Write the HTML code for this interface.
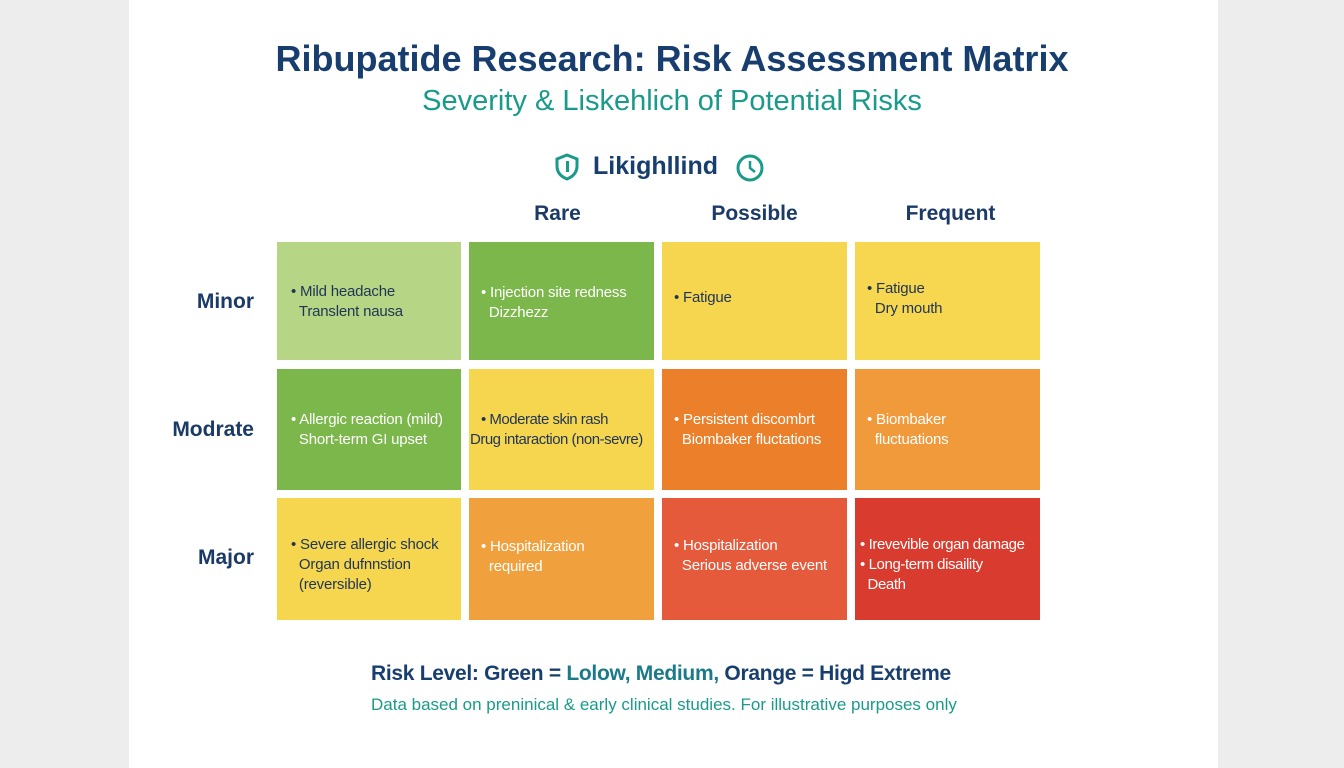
<!DOCTYPE html>
<html><head><meta charset="utf-8"><style>
body{margin:0;width:1344px;height:768px;background:#ededed;font-family:"Liberation Sans",sans-serif;position:relative;overflow:hidden}
.card{position:absolute;left:129px;top:0;width:1089px;height:768px;background:#fff}
.t{position:absolute;white-space:nowrap}
.c{position:absolute;font-size:15px;line-height:20px;box-sizing:border-box;white-space:nowrap;letter-spacing:-0.2px}
.c span{display:block}
.d{color:#1f3556}.w{color:#fff}
.h{position:absolute;font-weight:bold;font-size:21px;color:#1b3a66;text-align:center}
.r{position:absolute;font-weight:bold;font-size:21px;color:#1b3a66;text-align:right;width:130px;left:124px}
</style></head><body>
<div class="card"></div>
<div class="t" style="left:0;width:1344px;text-align:center;top:38px;font-size:36px;font-weight:bold;color:#173e6e">Ribupatide Research: Risk Assessment Matrix</div>
<div class="t" style="left:0;width:1344px;text-align:center;top:85px;font-size:29px;color:#1a9a8a">Severity &amp; Liskehlich of Potential Risks</div>
<svg style="position:absolute;left:555px;top:153px" width="24" height="28" viewBox="0 0 24 28"><path d="M12 2 L22 6 L22 13 C22 20 17 24 12 26 C7 24 2 20 2 13 L2 6 Z" fill="none" stroke="#1a9a8a" stroke-width="3"/><rect x="11" y="8" width="3" height="11" fill="#1a9a8a"/></svg>
<div class="t" style="left:593px;top:152px;font-size:25px;font-weight:bold;color:#173e6e">Likighllind</div>
<svg style="position:absolute;left:735px;top:153px" width="30" height="30"><circle cx="15" cy="15" r="12" fill="none" stroke="#1a9a8a" stroke-width="3"/><path d="M15 8 V15 L20 19" fill="none" stroke="#1a9a8a" stroke-width="2.5"/></svg>
<div class="h" style="left:465px;width:185px;top:202px">Rare</div>
<div class="h" style="left:662px;width:185px;top:202px">Possible</div>
<div class="h" style="left:858px;width:185px;top:202px">Frequent</div>
<div class="r" style="top:290px">Minor</div>
<div class="r" style="top:418px">Modrate</div>
<div class="r" style="top:546px">Major</div>

<div class="c d" style="left:277px;top:242px;width:184px;height:118px;background:#b6d585;padding:40px 0 0 14px"><span>• Mild headache</span><span>&nbsp;&nbsp;Translent nausa</span></div>
<div class="c w" style="left:469px;top:242px;width:185px;height:118px;background:#7bb74a;padding:41px 0 0 12px"><span>• Injection site redness</span><span>&nbsp;&nbsp;Dizzhezz</span></div>
<div class="c d" style="left:662px;top:242px;width:185px;height:118px;background:#f7d64f;padding:46px 0 0 12px"><span>• Fatigue</span></div>
<div class="c d" style="left:855px;top:242px;width:185px;height:118px;background:#f7d74f;padding:37px 0 0 12px"><span>• Fatigue</span><span>&nbsp;&nbsp;Dry mouth</span></div>

<div class="c w" style="left:277px;top:369px;width:184px;height:121px;background:#7bb74a;padding:41px 0 0 14px"><span>• Allergic reaction (mild)</span><span>&nbsp;&nbsp;Short-term GI upset</span></div>
<div class="c d" style="left:469px;top:369px;width:185px;height:121px;background:#f7d64f;padding:41px 0 0 1px;letter-spacing:-0.5px"><span>&nbsp;&nbsp;&nbsp;• Moderate skin rash</span><span>Drug intaraction (non-sevre)</span></div>
<div class="c w" style="left:662px;top:369px;width:185px;height:121px;background:#ec7f29;padding:41px 0 0 12px"><span>• Persistent discombrt</span><span>&nbsp;&nbsp;Biombaker fluctations</span></div>
<div class="c w" style="left:855px;top:369px;width:185px;height:121px;background:#f09a3b;padding:41px 0 0 12px"><span>• Biombaker</span><span>&nbsp;&nbsp;fluctuations</span></div>

<div class="c d" style="left:277px;top:498px;width:184px;height:122px;background:#f7d64f;padding:37px 0 0 14px"><span>• Severe allergic shock</span><span>&nbsp;&nbsp;Organ dufnnstion</span><span>&nbsp;&nbsp;(reversible)</span></div>
<div class="c w" style="left:469px;top:498px;width:185px;height:122px;background:#f0a03c;padding:39px 0 0 12px"><span>• Hospitalization</span><span>&nbsp;&nbsp;required</span></div>
<div class="c w" style="left:662px;top:498px;width:185px;height:122px;background:#e65a3c;padding:38px 0 0 12px"><span>• Hospitalization</span><span>&nbsp;&nbsp;Serious adverse event</span></div>
<div class="c w" style="left:855px;top:498px;width:185px;height:122px;background:#d93b2e;padding:37px 0 0 5px;letter-spacing:-0.4px"><span>• Irevevible organ damage</span><span>• Long-term disaility</span><span>&nbsp;&nbsp;Death</span></div>

<div class="t" style="left:371px;top:662px;font-size:21px;font-weight:bold;color:#173e6e;letter-spacing:-0.3px">Risk Level: Green = <span style="color:#1a7a8a">Lolow, Medium,</span> Orange = Higd Extreme</div>
<div class="t" style="left:371px;top:695px;font-size:17px;color:#1a9a8a">Data based on preninical &amp; early clinical studies. For illustrative purposes only</div>
</body></html>
